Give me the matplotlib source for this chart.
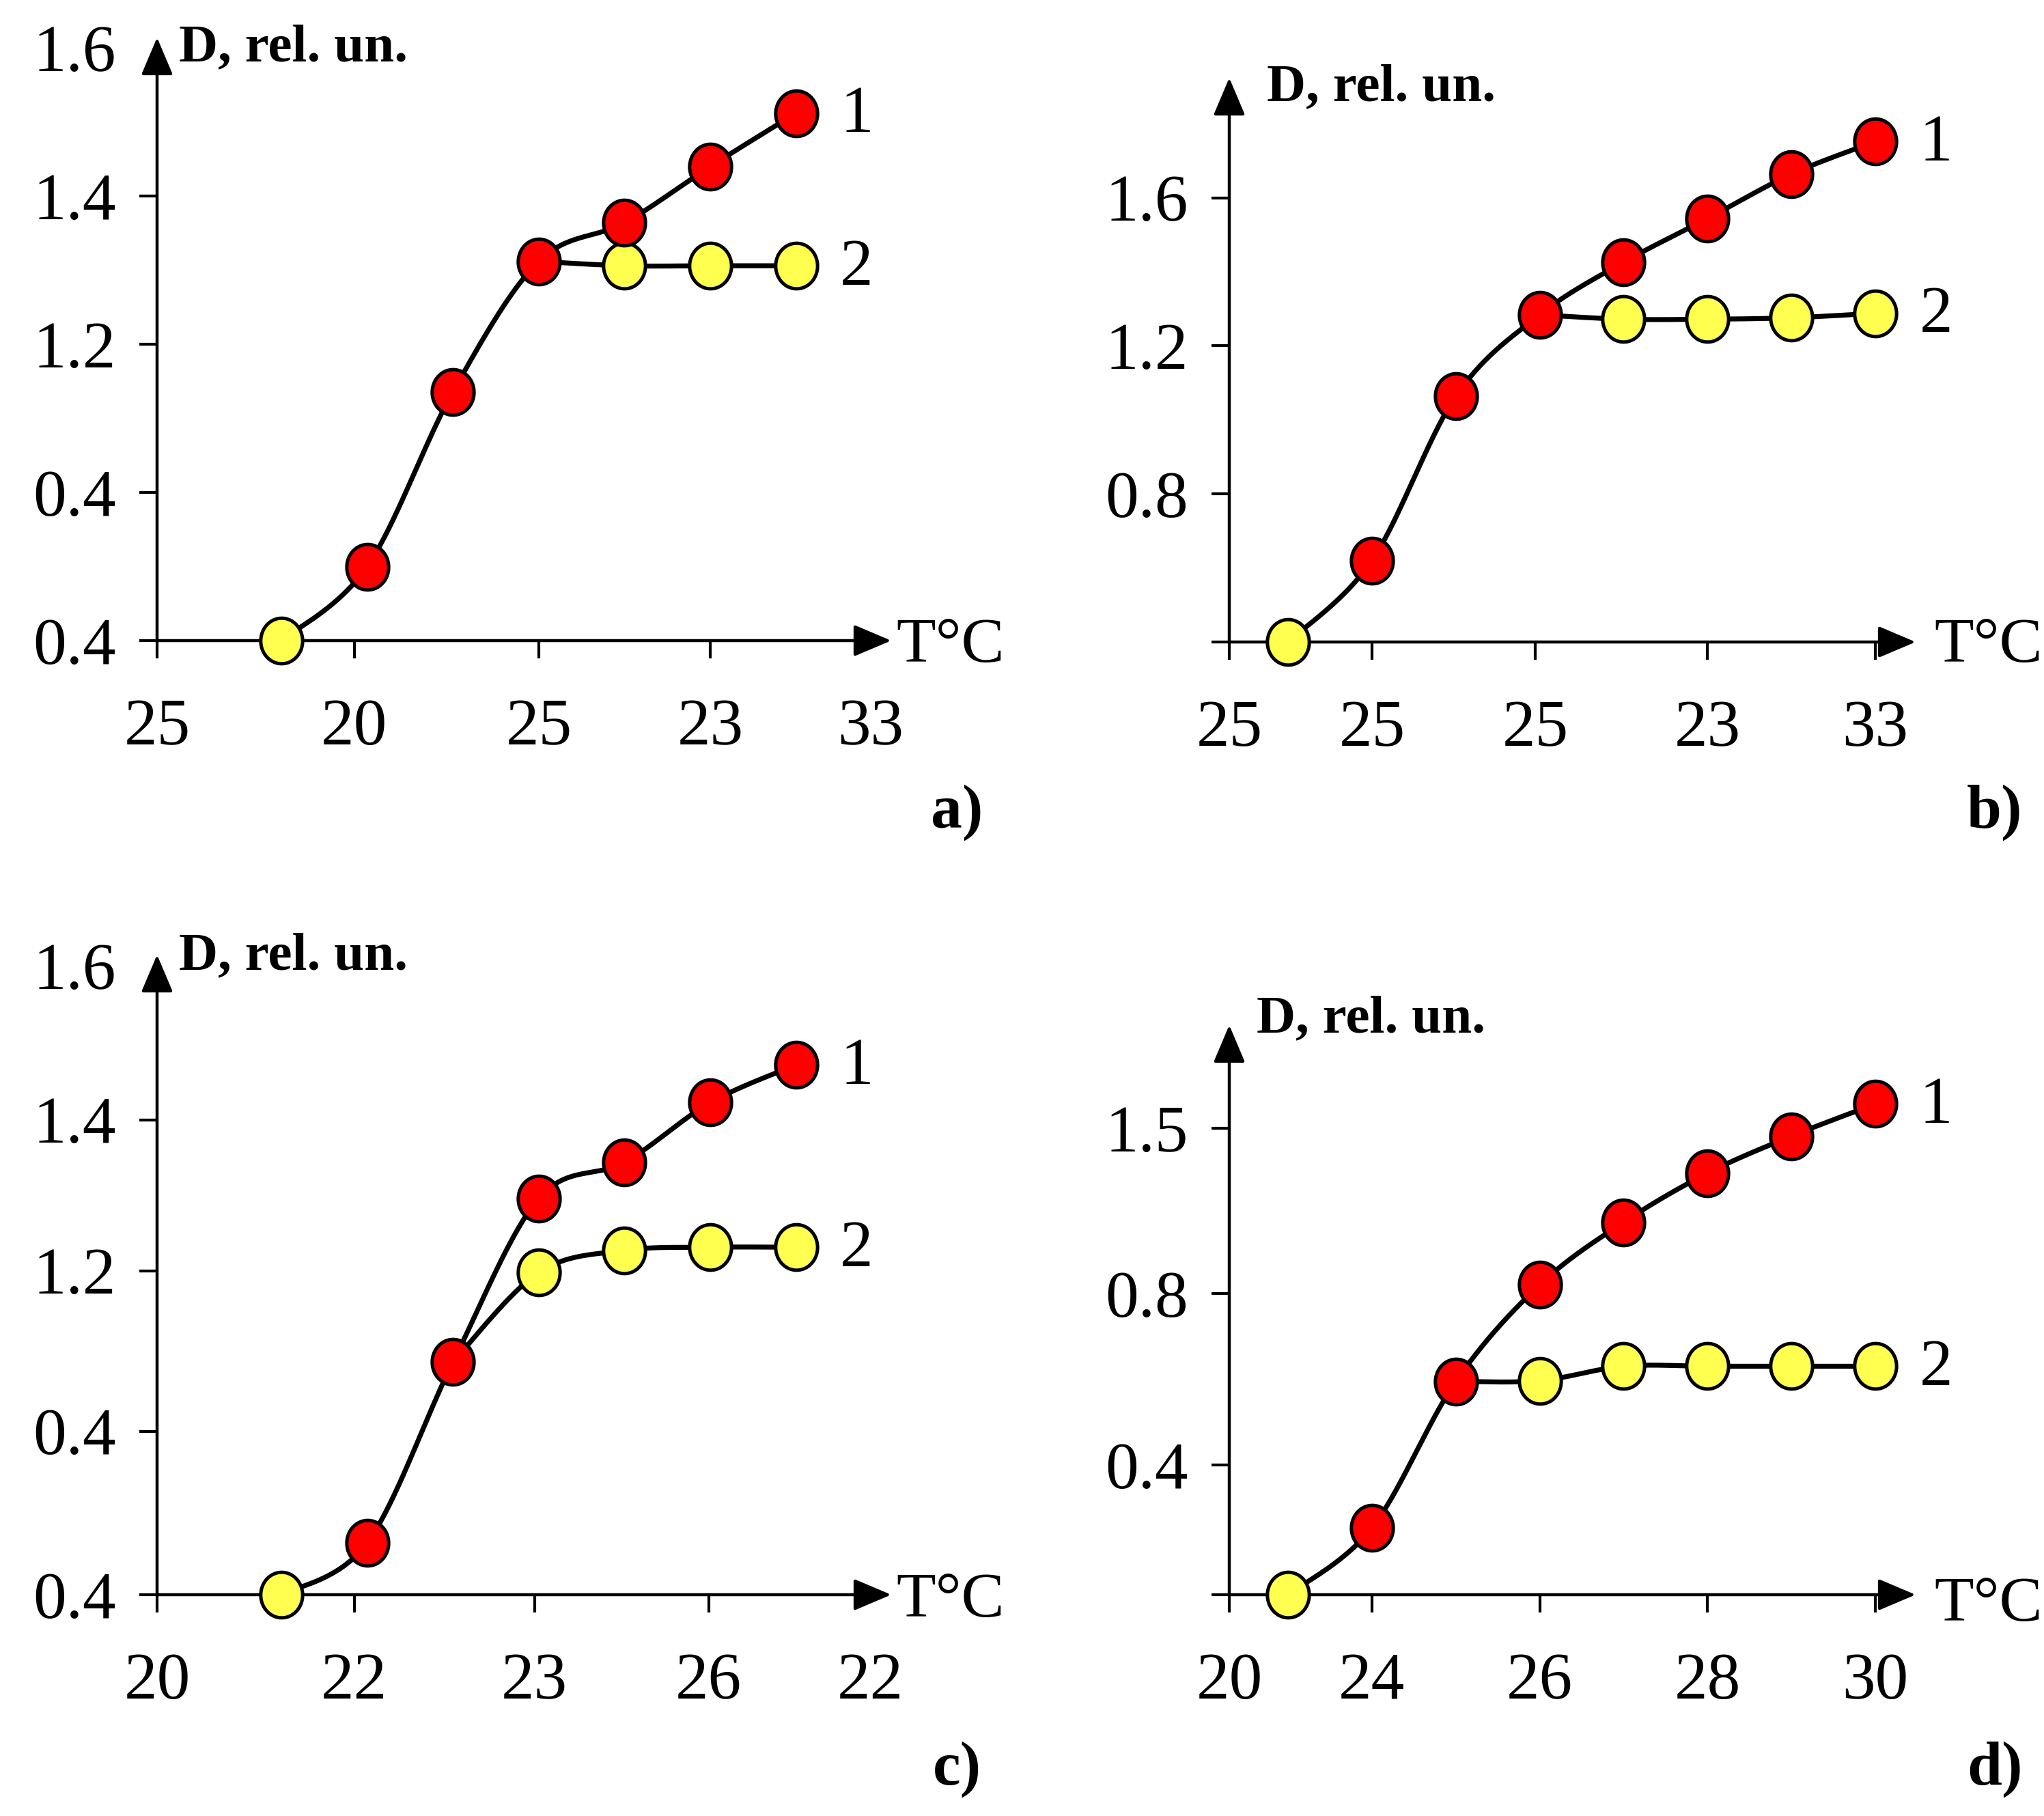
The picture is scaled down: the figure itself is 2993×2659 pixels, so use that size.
import numpy as np
import matplotlib
matplotlib.use('Agg')
import matplotlib.pyplot as plt
from matplotlib.path import Path

plt.rcParams['font.family'] = ['Liberation Serif', 'DejaVu Serif']

W, H, DPI = 2993, 2659, 100

# ---------------- data ----------------
# panel a
a_T = [24, 25, 26, 27, 28, 29, 30]
a_D1 = [0.0, 0.50, 1.68, 2.56, 2.82, 3.20, 3.56]
a_D2 = [0.0, 0.50, 1.68, 2.56, 2.53, 2.53, 2.53]
a_branch = 3
a_xtick_pos = [22.55, 24.85, 27.0, 29.0, 30.87]
a_xtick_lab = ['25', '20', '25', '23', '33']
a_ytick_pos = [0, 1, 2, 3, 4]
a_ytick_lab = ['0.4', '0.4', '1.2', '1.4', '1.6']

# panel b
b_T = [23, 24, 25, 26, 27, 28, 29, 30]
b_D1 = [0.0, 0.55, 1.66, 2.21, 2.565, 2.86, 3.16, 3.38]
b_D2 = [0.0, 0.55, 1.66, 2.21, 2.18, 2.18, 2.19, 2.22]
b_branch = 3
b_xtick_pos = [22.3, 24, 25.95, 28, 30]
b_xtick_lab = ['25', '25', '25', '23', '33']
b_ytick_pos = [0, 1, 2, 3]
b_ytick_lab = ['', '0.8', '1.2', '1.6']

# panel c
c_T = [24, 25, 26, 27, 28, 29, 30]
c_D1 = [0.0, 0.33, 1.48, 2.52, 2.75, 3.13, 3.37]
c_D2 = [0.0, 0.33, 1.48, 2.05, 2.19, 2.21, 2.21]
c_branch = 2
c_xtick_pos = [22.55, 24.85, 26.95, 28.98, 30.87]
c_xtick_lab = ['20', '22', '23', '26', '22']
c_ytick_pos = [0, 1.04, 2.06, 3.02, 4.0]
c_ytick_lab = ['0.4', '0.4', '1.2', '1.4', '1.6']

# panel d
d_T = [23, 24, 25, 26, 27, 28, 29, 30]
d_D1 = [0.0, 0.415, 1.326, 1.926, 2.315, 2.62, 2.85, 3.05]
d_D2 = [0.0, 0.415, 1.326, 1.33, 1.42, 1.42, 1.42, 1.42]
d_branch = 2
d_xtick_pos = [22.3, 24, 26, 28, 30]
d_xtick_lab = ['20', '24', '26', '28', '30']
d_ytick_pos = [0, 0.807, 1.87, 2.90]
d_ytick_lab = ['', '0.4', '0.8', '1.5']

panel_letters = ['a)', 'b)', 'c)', 'd)']
curve_labels = ['1', '2']
ylabel_text = 'D, rel. un.'
xlabel_text = 'T°C'

RED = '#FF0000'
YELLOW = '#FFFF50'

# ---------------- helpers ----------------
def catmull(x, y, n=40):
    P = np.column_stack([np.asarray(x, float), np.asarray(y, float)])
    E = np.vstack([P[0], P, P[-1]])
    pts = []
    for i in range(len(P) - 1):
        p0, p1, p2, p3 = E[i], E[i + 1], E[i + 2], E[i + 3]
        t = np.linspace(0, 1, n)[:, None]
        seg = 0.5 * (2 * p1 + (-p0 + p2) * t + (2 * p0 - 5 * p1 + 4 * p2 - p3) * t ** 2
                     + (-p0 + 3 * p1 - 3 * p2 + p3) * t ** 3)
        pts.append(seg)
    S = np.vstack(pts)
    return S[:, 0], S[:, 1]

theta = np.linspace(0, 2 * np.pi, 80)
ell = Path(np.column_stack([0.46 * np.cos(theta), 0.5 * np.sin(theta)]), closed=True)

fig = plt.figure(figsize=(W / DPI, H / DPI), dpi=DPI)
fig.patch.set_facecolor('white')

def px_rect(x0, x1, ybot, ytop):
    return [x0 / W, 1 - ybot / H, (x1 - x0) / W, (ybot - ytop) / H]

panels = [
    dict(T=a_T, D1=a_D1, D2=a_D2, br=a_branch, xp=a_xtick_pos, xl=a_xtick_lab,
         yp=a_ytick_pos, yl=a_ytick_lab, rect=px_rect(230, 1305, 938, 55),
         xlim=(22.55, 31.11), ylim=(0, 4.07), hide_x=[4], hide_y=[4],
         dlab=(262, 71), tlab=(1312, 946), letter=(1401, 1190)),
    dict(T=b_T, D1=b_D1, D2=b_D2, br=b_branch, xp=b_xtick_pos, xl=b_xtick_lab,
         yp=b_ytick_pos, yl=b_ytick_lab, rect=px_rect(1800, 2805, 940, 114),
         xlim=(22.3, 30.48), ylim=(0, 3.81), hide_x=[], hide_y=[],
         dlab=(1855, 129), tlab=(2832, 946), letter=(2921, 1190)),
    dict(T=c_T, D1=c_D1, D2=c_D2, br=c_branch, xp=c_xtick_pos, xl=c_xtick_lab,
         yp=c_ytick_pos, yl=c_ytick_lab, rect=px_rect(230, 1305, 2335, 1398),
         xlim=(22.55, 31.11), ylim=(0, 4.07), hide_x=[4], hide_y=[4],
         dlab=(262, 1401), tlab=(1312, 2345), letter=(1401, 2591)),
    dict(T=d_T, D1=d_D1, D2=d_D2, br=d_branch, xp=d_xtick_pos, xl=d_xtick_lab,
         yp=d_ytick_pos, yl=d_ytick_lab, rect=px_rect(1800, 2805, 2335, 1501),
         xlim=(22.3, 30.48), ylim=(0, 3.54), hide_x=[], hide_y=[],
         dlab=(1840, 1493), tlab=(2832, 2351), letter=(2921, 2591)),
]

for k, p in enumerate(panels):
    ax = fig.add_axes(p['rect'])
    ax.set_xlim(*p['xlim'])
    ax.set_ylim(*p['ylim'])
    for s in ax.spines.values():
        s.set_visible(False)
    ax.set_facecolor('none')
    ax.set_xticks(p['xp'], p['xl'])
    ax.set_yticks(p['yp'], p['yl'])
    ax.tick_params(axis='both', direction='out', length=19, width=3.0, labelsize=70)
    ax.tick_params(axis='x', pad=42)
    ax.tick_params(axis='y', pad=24)
    for i, t in enumerate(ax.xaxis.get_major_ticks()):
        if i in p['hide_x']:
            t.tick1line.set_visible(False)
    for i, t in enumerate(ax.yaxis.get_major_ticks()):
        if i in p['hide_y']:
            t.tick1line.set_visible(False)
    # axes arrows
    arr = dict(arrowstyle='-|>,head_length=0.85,head_width=0.36', lw=3.2, color='black',
               mutation_scale=40, shrinkA=0, shrinkB=0)
    ax.annotate('', xy=(1, 0), xytext=(0, 0), xycoords='axes fraction',
                textcoords='axes fraction', arrowprops=arr, annotation_clip=False)
    ax.annotate('', xy=(0, 1), xytext=(0, 0), xycoords='axes fraction',
                textcoords='axes fraction', arrowprops=arr, annotation_clip=False)

    T = np.asarray(p['T'], float)
    D1 = np.asarray(p['D1'], float)
    D2 = np.asarray(p['D2'], float)
    br = p['br']
    sx, sy = catmull(T, D1)
    ax.plot(sx, sy, color='black', lw=5.2, zorder=3, clip_on=False, solid_capstyle='round')
    sx, sy = catmull(T[br:], D2[br:])
    ax.plot(sx, sy, color='black', lw=5.2, zorder=3, clip_on=False, solid_capstyle='round')

    mk = dict(marker=ell, ms=48, mec='black', mew=3.6, ls='none', zorder=5, clip_on=False)
    ax.plot(T[br + 1:], D2[br + 1:], mfc=YELLOW, **mk)
    ax.plot(T[1:], D1[1:], mfc=RED, **mk)
    ax.plot(T[:1], D1[:1], mfc=YELLOW, **mk)

    ax.annotate(curve_labels[0], xy=(T[-1], D1[-1]), xytext=(64, -3), textcoords='offset points',
                ha='center', va='center', fontsize=70, annotation_clip=False)
    ax.annotate(curve_labels[1], xy=(T[-1], D2[-1]), xytext=(64, -3), textcoords='offset points',
                ha='center', va='center', fontsize=70, annotation_clip=False)

    fig.text(p['dlab'][0] / W, 1 - p['dlab'][1] / H, ylabel_text, ha='left', va='center',
             fontsize=57, fontweight='bold')
    fig.text(p['tlab'][0] / W, 1 - p['tlab'][1] / H, xlabel_text, ha='left', va='center',
             fontsize=68)
    fig.text(p['letter'][0] / W, 1 - p['letter'][1] / H, panel_letters[k], ha='center',
             va='center', fontsize=66, fontweight='bold')

fig.savefig('out.png', dpi=DPI, facecolor='white')
